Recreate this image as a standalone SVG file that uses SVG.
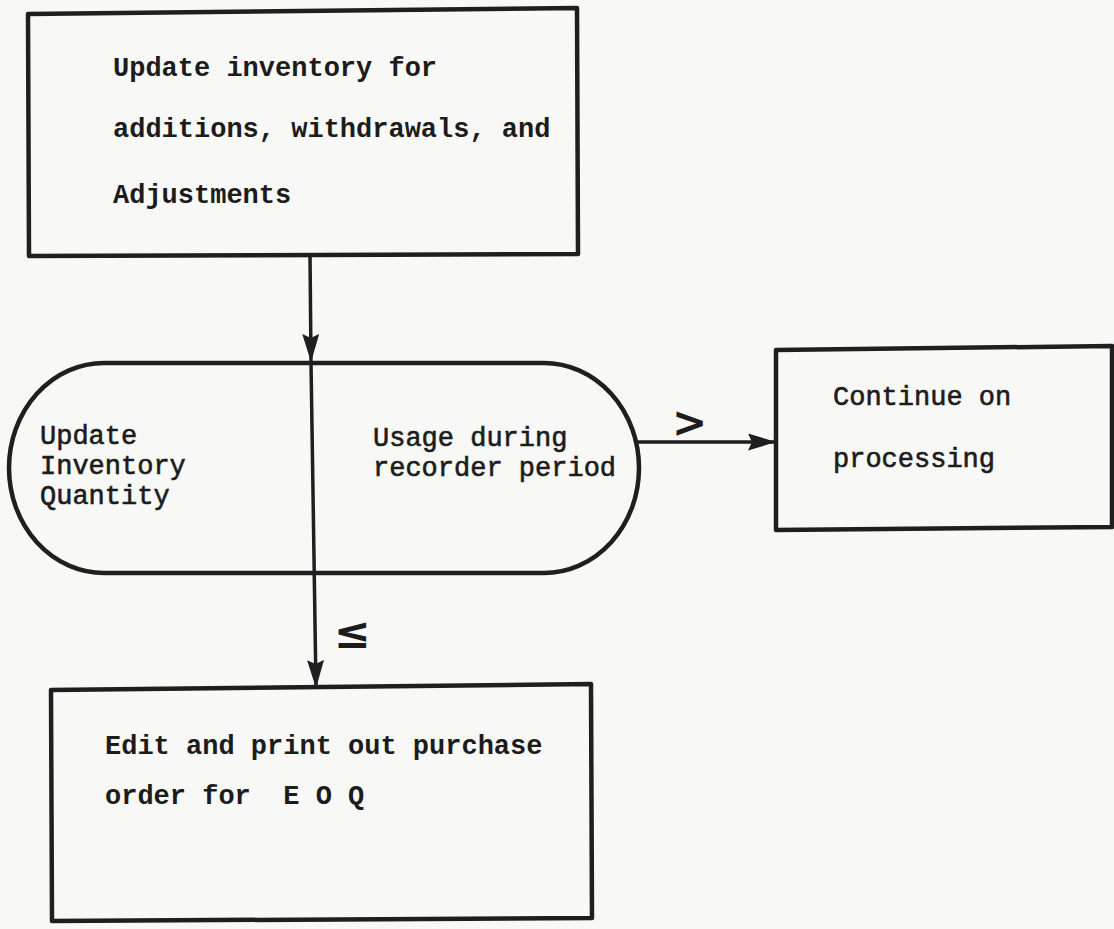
<svg xmlns="http://www.w3.org/2000/svg" width="1114" height="929" viewBox="0 0 1114 929">
  <style>
    .box { fill: none; stroke: #1f1f1f; stroke-width: 4.5; stroke-linejoin: round; }
    .edge { fill: none; stroke: #1f1f1f; stroke-width: 3.5; }
    .txt { font-family: "Liberation Mono", "Courier New", monospace; font-size: 27px; font-weight: bold; fill: #1c1c1c; }
    .lite { font-weight: normal; stroke: #1c1c1c; stroke-width: 0.6; }
    .sym { font-family: "DejaVu Sans", sans-serif; font-weight: bold; fill: #1c1c1c; }
  </style>
  <defs>
    <marker id="head" markerUnits="userSpaceOnUse" viewBox="0 0 28 17" markerWidth="28" markerHeight="17" refX="28" refY="8.5" orient="auto">
      <path d="M0,0 L28,8.5 L0,17 L4,8.5 Z" fill="#1f1f1f"/>
    </marker>
  </defs>

  <rect x="0" y="0" width="1114" height="929" fill="#f8f8f6"/>

  <!-- Connectors -->
  <g id="connectors">
    <path class="edge" d="M310,254 L311,362" marker-end="url(#head)"/>
    <path class="edge" d="M311,362 L316,688" marker-end="url(#head)"/>
    <path class="edge" d="M638,442 L776,442" marker-end="url(#head)"/>
    <text class="sym" x="672" y="437" font-size="42">&gt;</text>
    <text class="sym" x="334" y="648" font-size="44">≤</text>
  </g>

  <!-- Update inventory box -->
  <g id="update-inventory">
    <path class="box" d="M28,14 L577,8 L578,254 L29,256 Z"/>
    <text class="txt" x="113" y="76">Update inventory for</text>
    <text class="txt" x="113" y="137">additions, withdrawals, and</text>
    <text class="txt" x="113" y="203">Adjustments</text>
  </g>

  <!-- Decision terminator -->
  <g id="update-quantity">
    <rect class="box" x="9" y="363" width="630" height="210" rx="95" ry="105"/>
    <text class="txt lite" x="40" y="444">Update</text>
    <text class="txt lite" x="40" y="474">Inventory</text>
    <text class="txt lite" x="40" y="504">Quantity</text>
    <text class="txt lite" x="373" y="446">Usage during</text>
    <text class="txt lite" x="373" y="476">recorder period</text>
  </g>

  <!-- Continue box -->
  <g id="continue">
    <path class="box" d="M776,350 L1112,346 L1112,527 L776,530 Z"/>
    <text class="txt lite" x="833" y="405">Continue on</text>
    <text class="txt lite" x="833" y="467">processing</text>
  </g>

  <!-- Purchase order box -->
  <g id="purchase-order">
    <path class="box" d="M51,690 L591,684 L592,918 L52,921 Z"/>
    <text class="txt" x="105" y="754">Edit and print out purchase</text>
    <text class="txt" x="105" y="804" xml:space="preserve">order for  E O Q</text>
  </g>
</svg>
